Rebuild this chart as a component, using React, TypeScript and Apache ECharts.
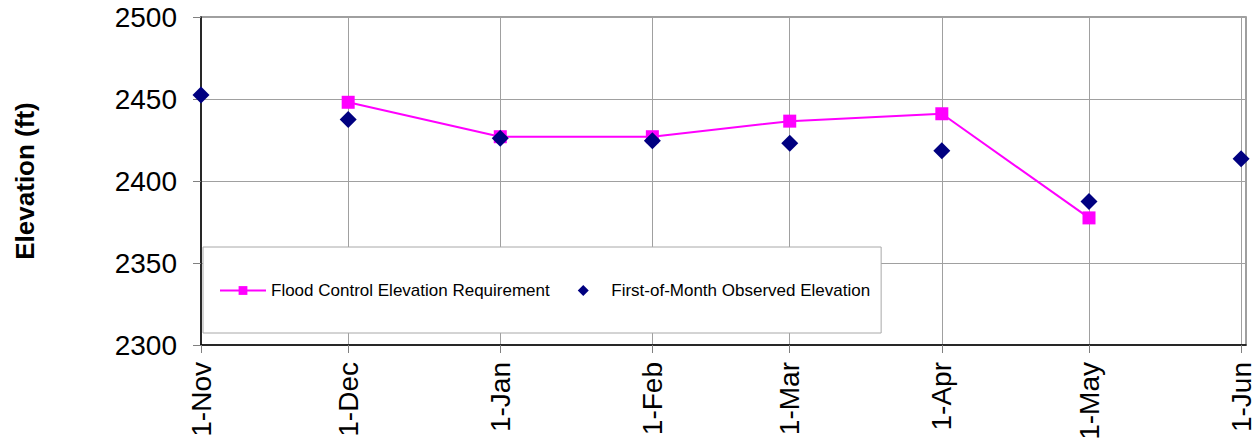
import React, { useEffect, useRef } from "react";
import * as echarts from "echarts";

const startDate = "2008-11-01";
const tickDates = ["2008-11-01", "2008-12-01", "2009-01-01", "2009-02-01", "2009-03-01", "2009-04-01", "2009-05-01", "2009-06-01"];
const tickLabels = ["1-Nov", "1-Dec", "1-Jan", "1-Feb", "1-Mar", "1-Apr", "1-May", "1-Jun"];
const axisEndDate = "2009-06-02";

const floodDates = ["2008-12-01", "2009-01-01", "2009-02-01", "2009-03-01", "2009-04-01", "2009-05-01"];
const floodValues = [2448, 2427, 2427, 2436.5, 2441, 2377.5];

const observedDates = ["2008-11-01", "2008-12-01", "2009-01-01", "2009-02-01", "2009-03-01", "2009-04-01", "2009-05-01", "2009-06-01"];
const observedValues = [2452.5, 2437.5, 2426, 2424.5, 2423, 2418.5, 2387.5, 2413.5];

const yTicks = [2300, 2350, 2400, 2450, 2500];

const FONT = "'Liberation Sans', Arial, sans-serif";
const dayOf = (d: string) => Math.round((Date.parse(d) - Date.parse(startDate)) / 86400000);

export default function App() {
  const ref = useRef<HTMLDivElement>(null);
  useEffect(() => {
    document.body.style.margin = "0";
    const chart = echarts.init(ref.current!, null, { renderer: "svg" });
    const tickDays = tickDates.map(dayOf);
    chart.setOption({
      animation: false,
      backgroundColor: "#ffffff",
      textStyle: { fontFamily: FONT },
      grid: {
        left: 201,
        right: 10,
        top: 17,
        bottom: 95,
        show: true,
        containLabel: false,
        outerBoundsMode: "none",
        borderColor: "#808080",
        borderWidth: 1.5,
        backgroundColor: "transparent",
      },
      legend: {
        left: 203,
        top: 247,
        orient: "horizontal",
        backgroundColor: "#ffffff",
        borderColor: "#a8a8a8",
        borderWidth: 1,
        padding: [35, 11, 34, 16],
        itemWidth: 46,
        itemHeight: 11,
        itemGap: 28,
        textStyle: { fontFamily: FONT, fontSize: 17, color: "#000" },
        data: [
          { name: "Flood Control Elevation Requirement" },
          {
            name: "First-of-Month Observed Elevation",
            icon: "path://M0,-1L1,0L0,1L-1,0Z",
            itemStyle: { color: "#000080", opacity: 1 },
          },
        ],
      },
      xAxis: {
        type: "value",
        min: 0,
        max: dayOf(axisEndDate),
        axisLine: { show: true, lineStyle: { color: "#000", width: 1.5 } },
        axisTick: { show: true, length: 8, lineStyle: { color: "#808080" }, customValues: tickDays },
        axisLabel: {
          customValues: tickDays,
          rotate: 90,
          margin: 17,
          fontSize: 28,
          color: "#000",
          fontFamily: FONT,
          formatter: (v: number) => {
            const i = tickDays.indexOf(Math.round(v));
            return i >= 0 ? tickLabels[i] : "";
          },
        },
        splitLine: { show: true, lineStyle: { color: "#a0a0a0", width: 1 } },
      },
      yAxis: {
        type: "value",
        min: yTicks[0],
        max: yTicks[yTicks.length - 1],
        interval: 50,
        name: "Elevation (ft)",
        nameLocation: "middle",
        nameRotate: 90,
        nameGap: 163,
        nameTextStyle: { fontFamily: FONT, fontSize: 26, fontWeight: "bold", color: "#000" },
        axisLine: { show: true, lineStyle: { color: "#000", width: 1.5 } },
        axisTick: { show: true, length: 8, lineStyle: { color: "#808080" } },
        axisLabel: {
          fontSize: 28,
          color: "#000",
          fontFamily: FONT,
          margin: 24,
          formatter: (v: number) => String(v),
        },
        splitLine: { show: true, lineStyle: { color: "#a0a0a0", width: 1 } },
      },
      series: [
        {
          name: "Flood Control Elevation Requirement",
          type: "line",
          data: floodDates.map((d, i) => [dayOf(d), floodValues[i]]),
          symbol: "rect",
          symbolSize: 13,
          lineStyle: { color: "#ff00ff", width: 2 },
          itemStyle: { color: "#ff00ff", opacity: 1 },
          z: 3,
        },
        {
          name: "First-of-Month Observed Elevation",
          type: "scatter",
          data: observedDates.map((d, i) => [dayOf(d), observedValues[i]]),
          symbol: "diamond",
          symbolSize: 17,
          itemStyle: { color: "#000080", opacity: 1 },
          z: 4,
        },
      ],
    });
    return () => chart.dispose();
  }, []);
  return <div ref={ref} style={{ width: 1256, height: 440 }} />;
}
